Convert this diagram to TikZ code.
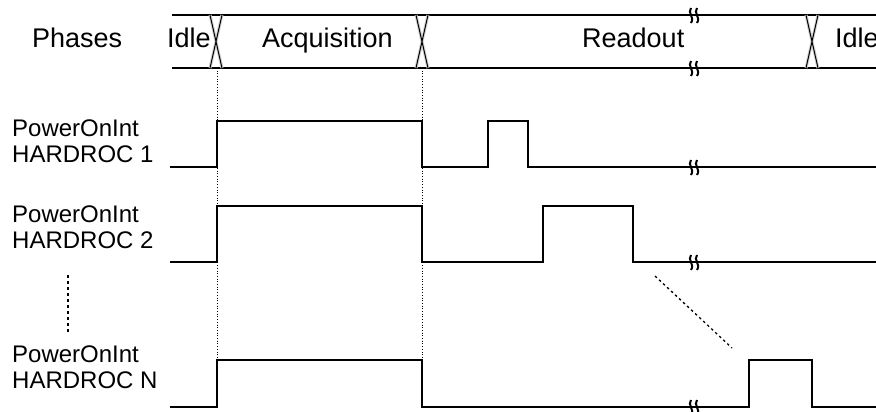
\documentclass[tikz,border=0pt]{standalone}
\usepackage{fontspec}
\setmainfont{Liberation Sans}
\usetikzlibrary{positioning}

\begin{document}
\begin{tikzpicture}[
    x=1pt, y=-1pt,
    signal/.style={line width=1.4pt, line join=miter},
    bandline/.style={line width=1.4pt},
    guide/.style={dotted, line width=0.7pt},
    phase/.style={font=\fontsize{27}{30}\selectfont, anchor=base west, inner sep=0pt},
    sigtext/.style={font=\fontsize{24}{26}\selectfont, align=left, anchor=base west, inner sep=0pt},
    brk/.pic={
        \draw[line width=2pt] (-3,-7) .. controls (-7,-2) and (1,2) .. (-3,8);
        \draw[line width=2pt] (3,-7) .. controls (-1,-2) and (7,2) .. (3,8);
    },
    cross/.pic={
        \draw[gray!35, line width=3pt] (-6,0) -- (6,53) (6,0) -- (-6,53);
        \draw[line width=1pt] (-6,0) -- (6,53) (6,0) -- (-6,53);
    }
]
\useasboundingbox (0,0) rectangle (876,412);

% Phases band
\draw[bandline] (172,15) -- (876,15);
\draw[bandline] (172,68) -- (876,68);
\pic at (216,15) {cross};
\pic at (422,15) {cross};
\pic at (812,15) {cross};
\pic at (694,15) {brk};
\pic at (694,68) {brk};

\node[phase] (phases) at (32,48) {Phases};
\node[phase] (idle1) at (167,48) {Idle};
\node[phase] (acq) at (262,48) {Acquisition};
\node[phase] (readout) at (582,48) {Readout};
\node[phase] (idle2) at (835,48) {Idle};

% Guides
\draw[guide] (217,68) -- (217,360);
\draw[guide] (422,68) -- (422,360);

% Signals
\node[sigtext] (lab1) at (12,162) {PowerOnInt\\HARDROC 1};
\draw[signal] (170,167) -- (217,167) -- (217,121) -- (422,121) -- (422,167)
    -- (488,167) -- (488,121) -- (528,121) -- (528,167) -- (876,167);
\pic at (694,167) {brk};

\node[sigtext] (lab2) at (12,248) {PowerOnInt\\HARDROC 2};
\draw[signal] (170,262) -- (217,262) -- (217,206) -- (422,206) -- (422,262)
    -- (543,262) -- (543,206) -- (633,206) -- (633,262) -- (876,262);
\pic at (694,262) {brk};

\node[sigtext] (labN) at (12,388) {PowerOnInt\\HARDROC N};
\draw[signal] (170,407) -- (217,407) -- (217,360) -- (422,360) -- (422,407)
    -- (749,407) -- (749,360) -- (812,360) -- (812,407) -- (876,407);
\pic at (694,407) {brk};

% Continuation marks
\draw[dash pattern=on 3pt off 3pt, line width=1.2pt] (68,275) -- (68,333);
\draw[dash pattern=on 2.5pt off 3pt, line width=1.3pt] (655,276) -- (732,348);

\end{tikzpicture}
\end{document}
